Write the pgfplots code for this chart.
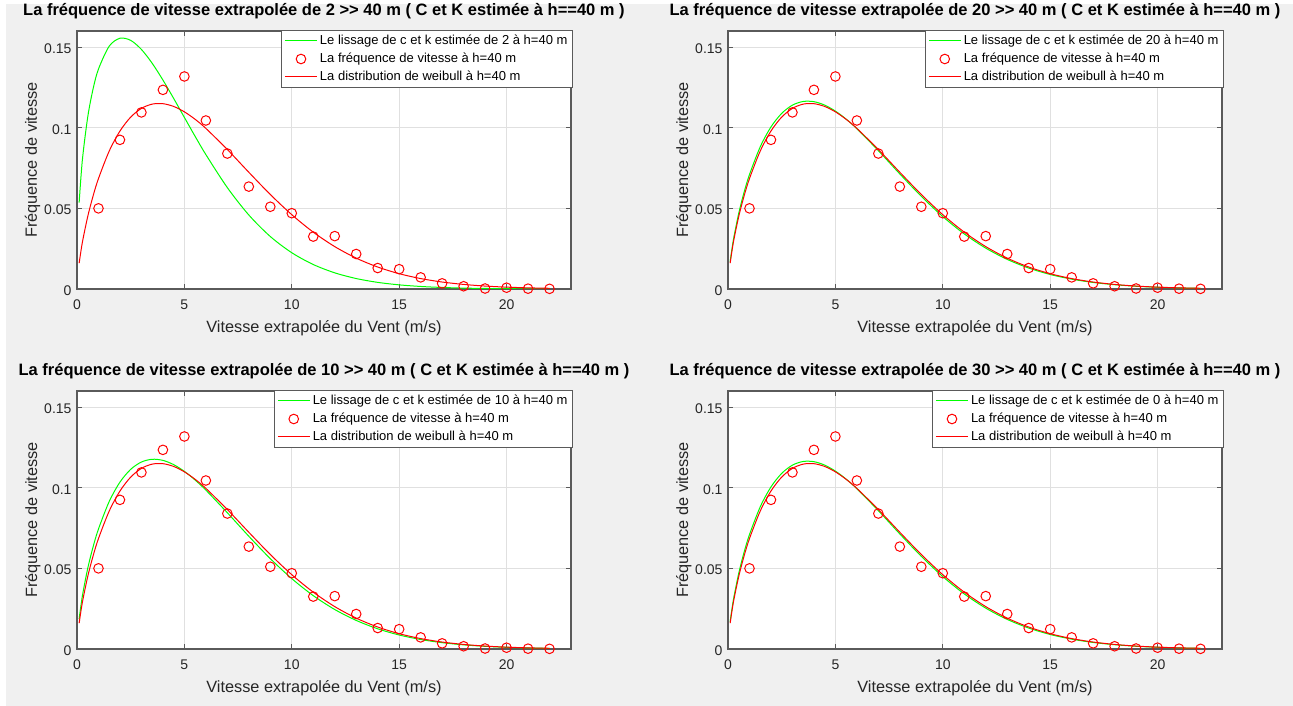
\documentclass[border=0pt]{standalone}
\usepackage{fontspec}
\setmainfont{Liberation Sans}
\usepackage{pgfplots}
\usepackage{pgfplotstable}
\pgfplotsset{compat=1.18}

\definecolor{figbg}{RGB}{240,240,240}
\definecolor{axtxt}{RGB}{38,38,38}
\definecolor{axline}{RGB}{90,90,90}
\definecolor{gridc}{RGB}{224,224,224}
\definecolor{mgreen}{RGB}{0,255,0}
\definecolor{mred}{RGB}{255,0,0}

% observed frequencies at h=40 m
\pgfplotstableread{
x y
1 0.0500
2 0.0925
3 0.1095
4 0.1235
5 0.1318
6 0.1045
7 0.0840
8 0.0635
9 0.0510
10 0.0470
11 0.0325
12 0.0328
13 0.0217
14 0.0130
15 0.0123
16 0.0072
17 0.0035
18 0.0017
19 0.0003
20 0.0008
21 0.0002
22 0.0001
}\tfreq

% weibull distribution at h=40 m
\pgfplotstableread{
x y
0.1 0.01600
0.25 0.02893
0.5 0.04496
0.75 0.05774
1 0.06850
1.5 0.08554
2 0.09796
2.5 0.10660
3 0.11201
3.5 0.11465
4 0.11492
4.5 0.11321
5 0.10986
5.5 0.10523
6 0.09960
7 0.08648
8 0.07238
9 0.05861
10 0.04608
11 0.03525
12 0.02629
13 0.01914
14 0.01363
15 0.00949
16 0.00647
17 0.00432
18 0.00284
19 0.00182
20 0.00115
21 0.00071
22 0.00044
}\tred

% fit from 2 m
\pgfplotstableread{
x y
0.1 0.05353
0.25 0.08002
0.5 0.10669
0.75 0.12418
1 0.13640
1.5 0.15059
2 0.15550
2.5 0.15418
3 0.14854
3.5 0.13998
4 0.12960
4.5 0.11818
5 0.10638
5.5 0.09466
6 0.08335
7 0.06286
8 0.04589
9 0.03255
10 0.02249
11 0.01518
12 0.01002
13 0.00648
14 0.00411
15 0.00256
16 0.00157
17 0.00094
18 0.00056
19 0.00033
20 0.00019
21 0.00011
22 0.00006
}\tgreenA

% fit from 20 m / 30 m
\pgfplotstableread{
x y
0.1 0.01699
0.25 0.03044
0.5 0.04697
0.75 0.06007
1 0.07098
1.5 0.08816
2 0.10050
2.5 0.10892
3 0.11402
3.5 0.11629
4 0.11617
4.5 0.11405
5 0.11032
5.5 0.10534
6 0.09939
7 0.08578
8 0.07135
9 0.05745
10 0.04491
11 0.03416
12 0.02534
13 0.01835
14 0.01299
15 0.00900
16 0.00611
17 0.00406
18 0.00265
19 0.00170
20 0.00107
21 0.00066
22 0.00040
}\tgreenB

% fit from 10 m
\pgfplotstableread{
x y
0.1 0.01871
0.25 0.03289
0.5 0.05002
0.75 0.06339
1 0.07441
1.5 0.09150
2 0.10349
2.5 0.11142
3 0.11596
3.5 0.11766
4 0.11698
4.5 0.11435
5 0.11016
5.5 0.10478
6 0.09853
7 0.08450
8 0.06991
9 0.05603
10 0.04364
11 0.03310
12 0.02449
13 0.01772
14 0.01253
15 0.00868
16 0.00589
17 0.00393
18 0.00257
19 0.00165
20 0.00104
21 0.00064
22 0.00039
}\tgreenC

\pgfplotsset{
  panel/.style={
    scale only axis, width=494pt, height=258pt,
    xmin=0, xmax=23, ymin=0, ymax=0.16,
    xtick={0,5,10,15,20}, xticklabels={0,5,10,15,20},
    ytick={0,0.05,0.1,0.15}, yticklabels={0,0.05,0.1,0.15},
    tick align=inside, major tick length=5pt,
    grid=major, grid style={line width=0.9pt, gridc},
    axis line style={axline, line width=1.1pt},
    every tick/.style={axline, line width=1.1pt},
    axis background/.style={fill=white},
    tick label style={font=\fontsize{14}{16}\selectfont, text=axtxt},
    xticklabel style={anchor=base, yshift=-21pt},
    yticklabel style={xshift=-2pt, yshift=-1.5pt},
    xlabel={Vitesse extrapolée du Vent (m/s)},
    ylabel={Fréquence de vitesse},
    xlabel style={at={([yshift=-44pt]axis description cs:0.5,0)}, anchor=base,
      font=\fontsize{16.3}{18}\selectfont, text=axtxt},
    ylabel style={at={([xshift=-40pt]axis description cs:0,0.5)}, anchor=base,
      font=\fontsize{16.3}{18}\selectfont, text=axtxt},
    title style={at={([yshift=9pt]axis description cs:0.5,1)}, anchor=base,
      font=\fontsize{16.5}{18}\selectfont\bfseries},
    legend cell align=left,
    legend style={at={([xshift=2pt,yshift=1pt]axis description cs:1,1)}, anchor=north east,
      draw=axline, line width=1pt,
      fill=white, font=\fontsize{13}{14}\selectfont,
      inner xsep=2.5pt, inner ysep=1.5pt, row sep=0pt,
      nodes={inner sep=2.5pt, text height=10pt, text depth=3pt}},
  },
  fitline/.style={draw=#1, line width=1pt, smooth,
    legend image code/.code={\draw[#1, line width=1pt] (0pt,0pt) -- (32pt,0pt);}},
  obsmarks/.style={only marks, mred, mark=o, mark size=4.8pt,
    mark options={line width=1pt},
    legend image code/.code={\draw[##1] plot coordinates {(16pt,0pt)};}},
}

\begin{document}
\begin{tikzpicture}
\useasboundingbox (0,0) rectangle (1293pt,706pt);
\fill[white] (0,0) rectangle (1293pt,706pt);
\fill[figbg] (6pt,0) rectangle (1293pt,702pt);

\begin{axis}[panel, at={(77pt,417pt)}, anchor=south west,
  title={La fréquence de vitesse extrapolée de 2 >{}> 40 m ( C et K estimée à h==40 m )}]
\addplot[fitline=mgreen] table {\tgreenA};
\addplot[obsmarks] table {\tfreq};
\addplot[fitline=mred] table {\tred};
\legend{Le lissage de c et k estimée de 2 à h=40 m, La fréquence de vitesse à h=40 m, La distribution de weibull à h=40 m}
\end{axis}

\begin{axis}[panel, at={(728pt,417pt)}, anchor=south west,
  title={La fréquence de vitesse extrapolée de 20 >{}> 40 m ( C et K estimée à h==40 m )}]
\addplot[fitline=mgreen] table {\tgreenB};
\addplot[obsmarks] table {\tfreq};
\addplot[fitline=mred] table {\tred};
\legend{Le lissage de c et k estimée de 20 à h=40 m, La fréquence de vitesse à h=40 m, La distribution de weibull à h=40 m}
\end{axis}

\begin{axis}[panel, at={(77pt,57pt)}, anchor=south west,
  title={La fréquence de vitesse extrapolée de 10 >{}> 40 m ( C et K estimée à h==40 m )}]
\addplot[fitline=mgreen] table {\tgreenC};
\addplot[obsmarks] table {\tfreq};
\addplot[fitline=mred] table {\tred};
\legend{Le lissage de c et k estimée de 10 à h=40 m, La fréquence de vitesse à h=40 m, La distribution de weibull à h=40 m}
\end{axis}

\begin{axis}[panel, at={(728pt,57pt)}, anchor=south west,
  title={La fréquence de vitesse extrapolée de 30 >{}> 40 m ( C et K estimée à h==40 m )}]
\addplot[fitline=mgreen] table {\tgreenB};
\addplot[obsmarks] table {\tfreq};
\addplot[fitline=mred] table {\tred};
\legend{Le lissage de c et k estimée de 0 à h=40 m, La fréquence de vitesse à h=40 m, La distribution de weibull à h=40 m}
\end{axis}
\end{tikzpicture}
\end{document}
